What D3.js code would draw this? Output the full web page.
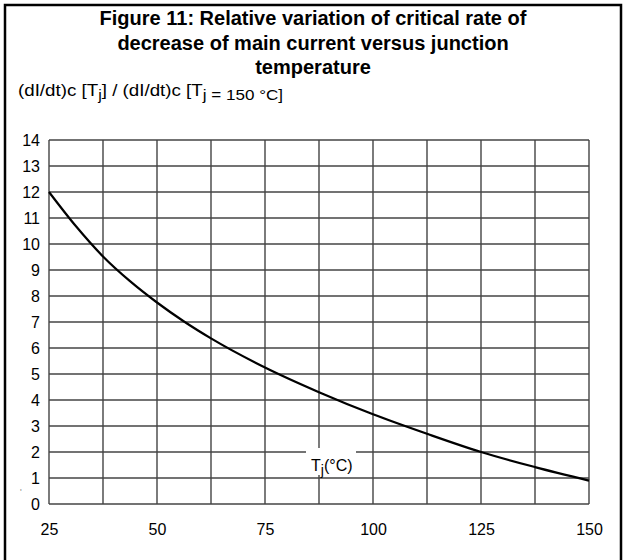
<!DOCTYPE html>
<html><head><meta charset="utf-8">
<script src="https://cdn.jsdelivr.net/npm/d3@7"></script>
<style>body{margin:0;background:#fff}svg{display:block}</style>
</head><body>
<svg id="c" width="626" height="560"></svg>
<script>
const titleLines = ["Figure 11: Relative variation of critical rate of", "decrease of main current versus junction", "temperature"];
const xTicks = [25, 50, 75, 100, 125, 150];
const xGrid = [25, 37.5, 50, 62.5, 75, 87.5, 100, 112.5, 125, 137.5, 150];
const yTicks = [0,1,2,3,4,5,6,7,8,9,10,11,12,13,14];
const tj = [25, 31.25, 37.5, 43.75, 50, 56.25, 62.5, 75, 87.5, 100, 112.5, 125, 137.5, 150];
const ratio = [12.0, 10.68, 9.52, 8.57, 7.75, 7.02, 6.37, 5.25, 4.3, 3.45, 2.7, 2.0, 1.42, 0.9];

const svg = d3.select("#c");
const font = "Liberation Sans, Arial, sans-serif";
const x = d3.scaleLinear().domain([25,150]).range([49,589]);
const y = d3.scaleLinear().domain([0,14]).range([504,140]);

// frame
svg.append("path").attr("d","M5,560 V5 H621 V560").attr("fill","none").attr("stroke","#000").attr("stroke-width",2.5);

// title
svg.append("g").selectAll("text").data(titleLines).join("text")
  .attr("x",313).attr("y",(d,i)=>25+i*24.5).attr("text-anchor","middle")
  .attr("font-family",font).attr("font-weight","bold").attr("font-size",20).attr("fill","#000").text(d=>d);

// y label
const yl = svg.append("text").attr("x",18).attr("y",96).attr("font-family",font).attr("font-size",16.5).attr("fill","#000")
  .attr("textLength",265).attr("lengthAdjust","spacingAndGlyphs");
yl.append("tspan").text("(dI/dt)c [T");
yl.append("tspan").attr("dy",4).attr("font-size",14).text("j");
yl.append("tspan").attr("dy",-4).text("] / (dI/dt)c [T");
yl.append("tspan").attr("dy",4).attr("font-size",15).text("j = 150 °C]");

// grid
const g = svg.append("g");
g.selectAll("line.h").data(yTicks).join("line").attr("class","h")
  .attr("x1",x(25)).attr("x2",x(150)).attr("y1",d=>y(d)).attr("y2",d=>y(d))
  .attr("stroke","#444").attr("stroke-width",1.4);
g.selectAll("line.v").data(xGrid).join("line").attr("class","v")
  .attr("y1",y(0)).attr("y2",y(14)).attr("x1",d=>x(d)).attr("x2",d=>x(d))
  .attr("stroke","#444").attr("stroke-width",1.4);

// axes via d3
const yAxis = d3.axisLeft(y).tickValues(yTicks).tickSize(0).tickPadding(9).tickFormat(d3.format("d"));
const ya = svg.append("g").attr("transform",`translate(${x(25)},0)`).call(yAxis);
ya.select(".domain").remove();
ya.selectAll("text").attr("font-family",font).attr("font-size",16).attr("fill","#000");
const xAxis = d3.axisBottom(x).tickValues(xTicks).tickSize(0).tickPadding(20).tickFormat(d3.format("d"));
const xa = svg.append("g").attr("transform",`translate(0,${y(0)})`).call(xAxis);
xa.select(".domain").remove();
xa.selectAll("text").attr("font-family",font).attr("font-size",16).attr("fill","#000");

// curve
const pts = tj.map((t,i)=>[t, ratio[i]]);
svg.append("path").datum(pts)
  .attr("d", d3.line().x(d=>x(d[0])).y(d=>y(d[1])).curve(d3.curveMonotoneX))
  .attr("fill","none").attr("stroke","#000").attr("stroke-width",2.2);

// axis title with white background
svg.append("rect").attr("x",306).attr("y",448).attr("width",50).attr("height",27).attr("fill","#fff");
const xl = svg.append("text").attr("x",311).attr("y",471).attr("font-family",font).attr("font-size",16).attr("fill","#000");
xl.append("tspan").text("T");
xl.append("tspan").attr("dy",4).attr("font-size",14).text("j");
xl.append("tspan").attr("dy",-4).text("(°C)");

// small mark at left
svg.append("text").attr("x",20).attr("y",495).attr("font-family",font).attr("font-size",9).attr("fill","#888").text("'");
</script>
</body></html>
